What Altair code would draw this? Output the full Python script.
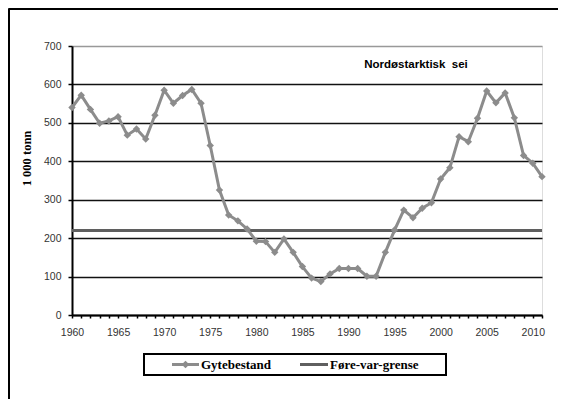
import altair as alt
import pandas as pd

YEARS = list(range(1960, 2012))
GYTEBESTAND = [540, 572, 535, 499, 505, 516, 468, 484, 458, 520,
               585, 551, 571, 587, 551, 441, 325, 260, 245, 224,
               192, 191, 163, 198, 163, 126, 96, 87, 107, 121,
               121, 121, 101, 101, 163, 221, 273, 253, 278, 292,
               354, 383, 464, 451, 512, 583, 552, 578, 513, 415,
               395, 360]
FORE_VAR = [220] * len(YEARS)
SERIES = ["Gytebestand", "Føre-var-grense"]
Y_TICKS = [0, 100, 200, 300, 400, 500, 600, 700]
TITLE = "Nordøstarktisk\u00a0 sei"
Y_TITLE = "1 000 tonn"

GRAY = "#8c8c8c"
DARK = "#5f5f5f"

df = pd.DataFrame({
    "year": YEARS * 2,
    "value": FORE_VAR + GYTEBESTAND,
    "series": [SERIES[1]] * len(YEARS) + [SERIES[0]] * len(YEARS),
})
gyte = pd.DataFrame({"year": YEARS, "value": GYTEBESTAND})

x_axis = alt.Axis(values=YEARS, title=None, grid=False, labelOverlap=False,
                  labelExpr="datum.value % 5 == 0 ? datum.value : ''",
                  tickSize=3, tickWidth=1.5, tickColor="black",
                  domainColor="black", domainWidth=2,
                  labelFont="Liberation Sans", labelFontSize=10.5,
                  labelColor="#333", labelPadding=9, labelFlush=False)
y_axis = alt.Axis(values=Y_TICKS, title=Y_TITLE, grid=True, labelOverlap=False,
                  gridColor={"condition": {"test": "datum.value === 700", "value": "#999"}, "value": "#111"},
                  gridWidth=1.5,
                  tickSize=4, tickWidth=1.5, tickColor="black",
                  domainColor="black", domainWidth=2,
                  labelFont="Liberation Sans", labelFontSize=10.5,
                  labelColor="#333", labelPadding=7,
                  titleFont="Liberation Serif", titleFontWeight="bold",
                  titleFontSize=12.5, titleColor="black",
                  titleAngle=270, titleX=-39, titleY=112,
                  titleAlign="center", titleBaseline="bottom")

x_enc = alt.X("year:Q", scale=alt.Scale(domain=[1960, 2011], nice=False, zero=False), axis=x_axis)
y_enc = alt.Y("value:Q", scale=alt.Scale(domain=[0, 700], nice=False), axis=y_axis)

lines = alt.Chart(df).mark_line(strokeWidth=3).encode(
    x=x_enc, y=y_enc,
    stroke=alt.Stroke("series:N", scale=alt.Scale(domain=SERIES, range=[GRAY, DARK]), legend=None))

points = alt.Chart(gyte).mark_point(shape="diamond", filled=True, size=55,
                                    color=GRAY, opacity=1).encode(
    x=x_enc, y=y_enc)

# --- legend (drawn as decoration inside a framed box) ---
one = pd.DataFrame({"label": [SERIES[0]]})
two = pd.DataFrame({"label": [SERIES[1]]})
LEG_Y = 318.5

legend_box = alt.Chart(one).mark_rect(fill="white", stroke="black", strokeWidth=2).encode(
    x=alt.value(72), x2=alt.value(374), y=alt.value(308), y2=alt.value(329))
leg1_line = alt.Chart(one).mark_rule(color=GRAY, strokeWidth=3).encode(
    x=alt.value(100), x2=alt.value(127), y=alt.value(LEG_Y))
leg1_pt = alt.Chart(one).mark_point(shape="diamond", filled=True, size=60, color=GRAY, opacity=1).encode(
    x=alt.value(113.5), y=alt.value(LEG_Y))
leg1_txt = alt.Chart(one).mark_text(font="Liberation Serif", fontWeight="bold", fontSize=13,
                                    color="black", align="left", baseline="middle").encode(
    text="label:N", x=alt.value(129), y=alt.value(LEG_Y + 0.5))
leg2_line = alt.Chart(two).mark_rule(color=DARK, strokeWidth=3).encode(
    x=alt.value(228), x2=alt.value(256), y=alt.value(LEG_Y))
leg2_txt = alt.Chart(two).mark_text(font="Liberation Serif", fontWeight="bold", fontSize=13,
                                    color="black", align="left", baseline="middle").encode(
    text="label:N", x=alt.value(258), y=alt.value(LEG_Y + 0.5))

frame_left = alt.Chart(one).mark_rule(color="black", strokeWidth=3).encode(
    x=alt.value(-63.5), y=alt.value(-37.5), y2=alt.value(361))
frame_top = alt.Chart(one).mark_rule(color="black", strokeWidth=3).encode(
    y=alt.value(-37.5), x=alt.value(-63.5), x2=alt.value(494))

title = alt.Chart(pd.DataFrame({"t": [TITLE]})).mark_text(
    font="Liberation Sans", fontWeight="bold", fontSize=11.5, color="black",
    align="center", baseline="alphabetic").encode(
    text="t:N", x=alt.value(344), y=alt.value(22))

chart = alt.layer(lines, points, legend_box, leg1_line, leg1_pt, leg1_txt, leg2_line, leg2_txt,
                  frame_left, frame_top, title).properties(
    width=470, height=269,
    padding={"left": 64, "top": 38, "right": 16, "bottom": 84},
    autosize=alt.AutoSizeParams(type="none"),
).configure_view(stroke="#999", strokeWidth=2).configure(background="white")

chart.save("out.html", embed_options={"renderer": "svg", "actions": False})
